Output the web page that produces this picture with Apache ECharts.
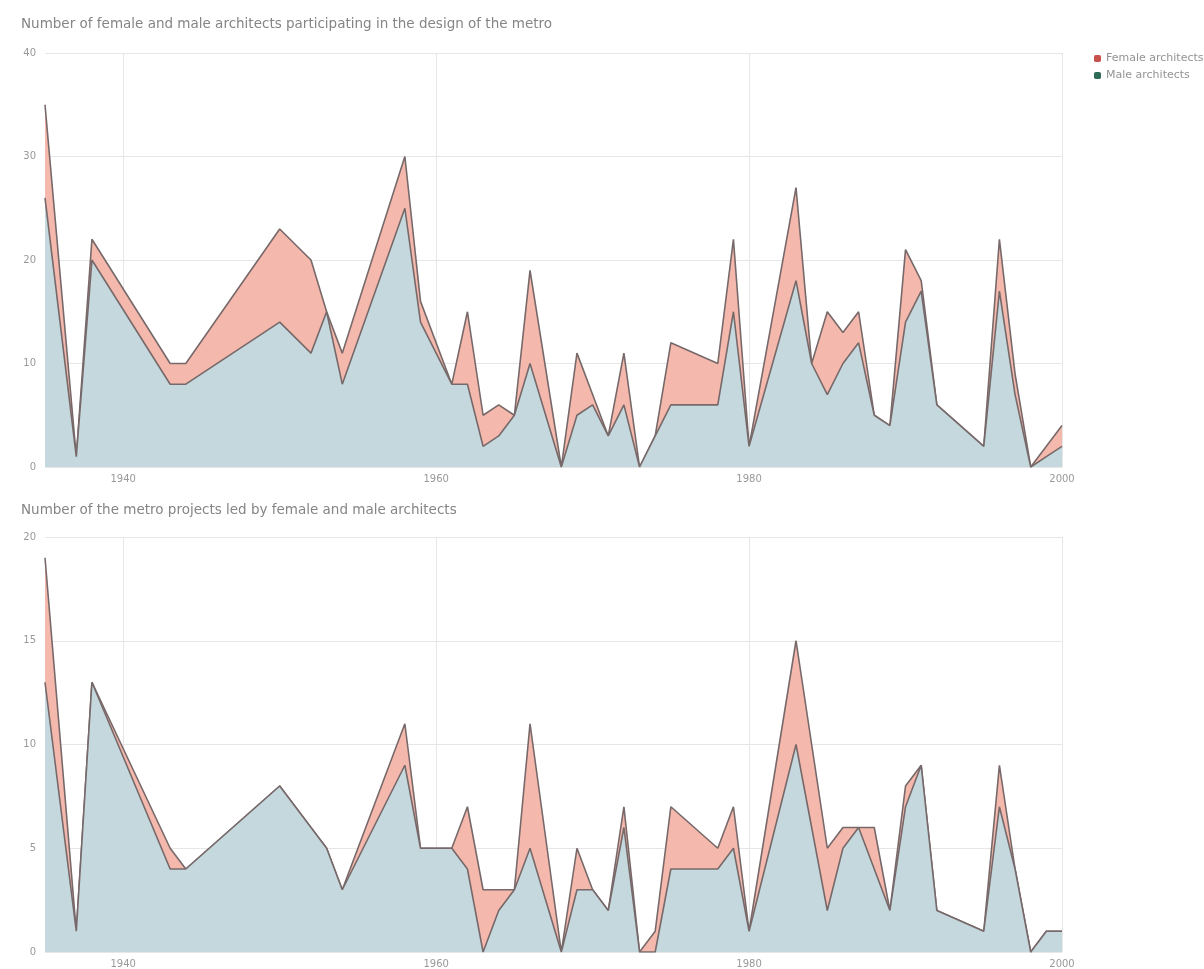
<!DOCTYPE html>
<html>
<head>
<meta charset="utf-8">
<script src="https://cdn.jsdelivr.net/npm/echarts@6/dist/echarts.min.js"></script>
<style>
html,body{margin:0;padding:0;background:#fff;}
#chart{width:1204px;height:969px;}
</style>
</head>
<body>
<div id="chart"></div>
<script>
// ---- data ----
const years = [1935,1937,1938,1943,1944,1950,1952,1953,1954,1958,1959,1961,1962,1963,1964,1965,1966,1968,1969,1970,1971,1972,1973,1974,1975,1978,1979,1980,1983,1984,1985,1986,1987,1988,1989,1990,1991,1992,1995,1996,1997,1998,1999,2000];

// Chart 1: architects participating in design
const maleArchitects   = [26,1,20,8,8,14,11,15,8,25,14,8,8,2,3,5,10,0,5,6,3,6,0,3,6,6,15,2,18,10,7,10,12,5,4,14,17,6,2,17,7,0,1,2];
const femaleArchitects = [9,0,2,2,2,9,9,0,3,5,2,0,7,3,3,0,9,0,6,1,0,5,0,0,6,4,7,0,9,0,8,3,3,0,0,7,1,0,0,5,2,0,1,2];

// Chart 2: projects led by
const maleLed   = [13,1,13,4,4,8,6,5,3,9,5,5,4,0,2,3,5,0,3,3,2,6,0,0,4,4,5,1,10,6,2,5,6,4,2,7,9,2,1,7,4,0,1,1];
const femaleLed = [6,0,0,1,0,0,0,0,0,2,0,0,3,3,1,0,6,0,2,0,0,1,0,1,3,1,2,0,5,4,3,1,0,2,0,1,0,0,0,2,0,0,0,0];

const xTicks = [1940,1960,1980,2000];

const title1 = 'Number of female and male architects participating in the design of the metro';
const title2 = 'Number of the metro projects led by female and male architects';
const nameF = 'Female architects';
const nameM = 'Male architects';

// ---- build ----
// female areas sit on top of male areas (stacked): top edge = male + female
const stackedPair = (xs, base, add) => xs.map((x, i) => [x, base[i] + (add ? add[i] : 0)]);
const FONT = '"DejaVu Sans", sans-serif';
const labelColor = '#999999';
const gridColor = '#e6e6e6';
const lineColor = '#77696a';
const femaleFill = '#f5b8ac';
const maleFill = '#c4d8dd';
const femaleIcon = '#c9514c';
const maleIcon = '#2e6b57';

function xAxis(gridIndex) {
  return {
    type: 'value', gridIndex, min: 1935, max: 2000,
    axisLine: {show: false},
    axisTick: {show: false, customValues: xTicks},
    axisLabel: {customValues: xTicks, color: labelColor, fontSize: 10, fontFamily: FONT, margin: 7,
      formatter: v => String(v)},
    splitLine: {show: true, lineStyle: {color: gridColor, width: 1}}
  };
}
function yAxis(gridIndex, max, interval) {
  return {
    type: 'value', gridIndex, min: 0, max, interval,
    axisLine: {show: false}, axisTick: {show: false},
    axisLabel: {color: labelColor, fontSize: 10, fontFamily: FONT, margin: 9},
    splitLine: {show: true, lineStyle: {color: gridColor, width: 1}}
  };
}
function series(name, data, idx, fill, icon, z) {
  return {
    name, type: 'line', xAxisIndex: idx, yAxisIndex: idx, z,
    data, showSymbol: false, symbol: 'none',
    lineStyle: {color: lineColor, width: 1.6},
    itemStyle: {color: icon},
    areaStyle: {color: fill, opacity: 1},
    emphasis: {disabled: true}
  };
}

const chart = echarts.init(document.getElementById('chart'), null, {renderer: 'canvas'});
chart.setOption({
  animation: false,
  backgroundColor: '#ffffff',
  title: [
    {text: title1, left: 16, top: 12, textStyle: {fontSize: 13.5, fontWeight: 'normal', color: '#858585', fontFamily: FONT}},
    {text: title2, left: 16, top: 498, textStyle: {fontSize: 13.5, fontWeight: 'normal', color: '#858585', fontFamily: FONT}}
  ],
  legend: {
    data: [nameF, nameM], orient: 'vertical', left: 1089, top: 48,
    icon: 'roundRect', itemWidth: 7, itemHeight: 7, itemGap: 6,
    textStyle: {fontSize: 11, color: '#939393', fontFamily: FONT}
  },
  grid: [
    {left: 45, right: 142, top: 53, height: 414},
    {left: 45, right: 142, top: 537, height: 416}
  ],
  xAxis: [xAxis(0), xAxis(1)],
  yAxis: [yAxis(0, 40, 10), yAxis(1, 20, 5)],
  series: [
    series(nameF, stackedPair(years, maleArchitects, femaleArchitects), 0, femaleFill, femaleIcon, 2),
    series(nameM, stackedPair(years, maleArchitects), 0, maleFill, maleIcon, 3),
    series(nameF, stackedPair(years, maleLed, femaleLed), 1, femaleFill, femaleIcon, 2),
    series(nameM, stackedPair(years, maleLed), 1, maleFill, maleIcon, 3)
  ]
});
</script>
</body>
</html>
